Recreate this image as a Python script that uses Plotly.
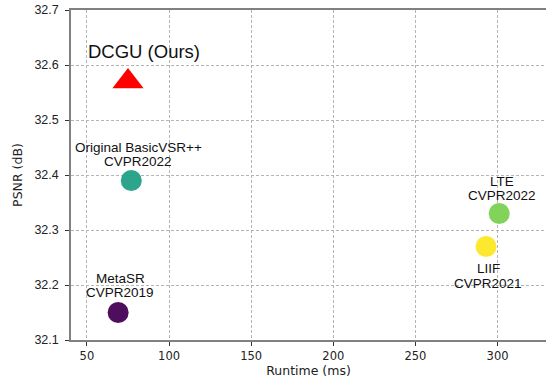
import plotly.graph_objects as go

methods = ["MetaSR", "Original BasicVSR++", "LTE", "LIIF"]
venues = ["CVPR2019", "CVPR2022", "CVPR2022", "CVPR2021"]
runtime = [69, 77, 301, 293]
psnr = [32.15, 32.39, 32.33, 32.27]
colors = ["#440154", "#21a086", "#7ad151", "#fde725"]
name_shift = [34, 33, 32, -22]
venue_shift = [20, 19, 18, -37]
label_xshift = [2, 7, 3, 2]

ours_name = "DCGU (Ours)"
ours_runtime = [75]
ours_psnr = [32.57]

fig = go.Figure()
fig.add_trace(go.Scatter(
    x=runtime, y=psnr, mode="markers",
    marker=dict(size=21, color=colors, opacity=0.95, line=dict(width=0)),
    showlegend=False, hoverinfo="skip"))
fig.add_trace(go.Scatter(
    x=ours_runtime, y=ours_psnr, mode="markers",
    marker=dict(size=27, symbol="triangle-up", color="#ff0000", line=dict(width=0)),
    showlegend=False, hoverinfo="skip"))

lab_font = dict(family="Liberation Sans, Arial", size=13.5, color="#111")
for m, v, xv, yv, s1, s2, dx in zip(methods, venues, runtime, psnr, name_shift, venue_shift, label_xshift):
    fig.add_annotation(x=xv, y=yv, text=m, showarrow=False, yshift=s1, xshift=dx, font=lab_font)
    fig.add_annotation(x=xv, y=yv, text=v, showarrow=False, yshift=s2, xshift=dx, font=lab_font)
fig.add_annotation(x=ours_runtime[0], y=ours_psnr[0], text=ours_name, showarrow=False,
                   yshift=30, xshift=16,
                   font=dict(family="Liberation Sans, Arial", size=18.5, color="#111"))

axis_common = dict(
    showgrid=True, gridcolor="#b4b4b4", griddash="3px,2px", gridwidth=1,
    showline=True, linecolor="#808080", linewidth=1.5,
    ticks="outside", ticklen=4, tickcolor="#333", tickwidth=1,
    zeroline=False, automargin=False,
)
fig.update_xaxes(range=[40.3, 329.5], dtick=50, tick0=0,
                 tickfont=dict(family="DejaVu Sans", size=11.5, color="#222"),
                 title=dict(text="Runtime (ms)", font=dict(family="DejaVu Sans", size=12.5, color="#222"),
                            standoff=4),
                 mirror=True, **axis_common)
fig.update_yaxes(range=[32.1, 32.7], dtick=0.1, tickformat=".1f",
                 tickfont=dict(family="Liberation Sans, Arial", size=12.5, color="#222"),
                 ticklabelstandoff=4,
                 title=dict(text="PSNR (dB)", font=dict(family="DejaVu Sans", size=12.5, color="#222"),
                            standoff=9),
                 **axis_common)

fig.update_layout(width=546, height=381, margin=dict(l=71, r=0, t=10, b=41),
                  plot_bgcolor="white", paper_bgcolor="white")
fig.write_html("out.html", config={"displayModeBar": False},
               post_script="document.body.style.margin='0';document.body.style.overflow='hidden';")
